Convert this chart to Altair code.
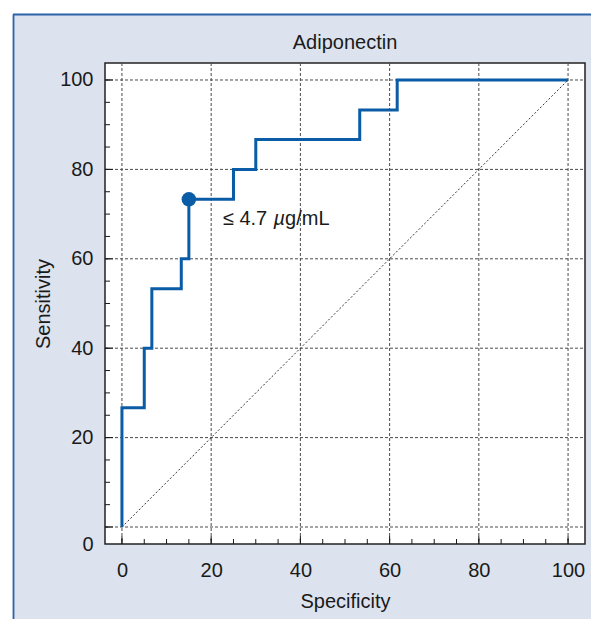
import altair as alt
import pandas as pd

# ROC curve (step points, step-after interpolation)
specificity = [0, 0, 5, 6.7, 13.3, 15, 25, 30, 53.3, 61.7, 100]
sensitivity = [0, 26.7, 40, 53.3, 60, 73.3, 80, 86.7, 93.3, 100, 100]
cutoff_spec = [15]
cutoff_sens = [73.3]
cutoff_parts = ["\u2264 4.7 ", "\u00b5", "g/mL"]
chance_x = [0, 100]
chance_y = [0, 100]
major_ticks = [0, 20, 40, 60, 80, 100]
minor_ticks = list(range(0, 101, 5))
title_text = "Adiponectin"
x_title = "Specificity"
y_title = "Sensitivity"

FONT = "Liberation Sans"
FS = 20
BLUE = "#0b5ca6"
BORDER = "#2a63a8"
BG = "#dce3ef"
TXT = "#1a1a1a"
DOM = [-3.8, 103.8]
W, H = 480, 481

xs = alt.Scale(domain=DOM, nice=False, zero=False)
ys = alt.Scale(domain=DOM, nice=False, zero=False)

xaxis = alt.Axis(values=major_ticks, grid=False, ticks=False, domain=False,
                 labelFont=FONT, labelFontSize=FS, labelColor=TXT, labelPadding=16,
                 title=x_title, titleFont=FONT, titleFontSize=FS, titleFontWeight="normal",
                 titleColor=TXT, titleBaseline="alphabetic", titleY=63, titleX=W / 2,
                 zindex=1)
yaxis = alt.Axis(values=[DOM[0]] + major_ticks[1:], grid=False, ticks=False, domain=False,
                 labelExpr="datum.value < 0 ? '0' : datum.label",
                 labelFont=FONT, labelFontSize=FS, labelColor=TXT, labelPadding=12,
                 title=y_title, titleFont=FONT, titleFontSize=FS, titleFontWeight="normal",
                 titleColor=TXT, titleBaseline="alphabetic", titleX=-56, titleY=H / 2,
                 zindex=1)

roc = pd.DataFrame({"x": specificity, "y": sensitivity, "i": range(len(specificity))})
cut = pd.DataFrame({"x": cutoff_spec, "y": cutoff_sens})
diag = pd.DataFrame({"x": chance_x, "y": chance_y})
grid = pd.DataFrame({"v": major_ticks})
minor = pd.DataFrame({"v": minor_ticks})
one = pd.DataFrame({"a": [0]})

X = lambda f: alt.X(f, type="quantitative", scale=xs, axis=xaxis)
Y = lambda f: alt.Y(f, type="quantitative", scale=ys, axis=yaxis)

# page decorations (white margin strips and blue box border)
strip_left = alt.Chart(one).mark_rect(color="white").encode(
    x=alt.value(-97), x2=alt.value(-92), y=alt.value(-55), y2=alt.value(565))
strip_top = alt.Chart(one).mark_rect(color="white").encode(
    x=alt.value(-97), x2=alt.value(500), y=alt.value(-55), y2=alt.value(-48))
border_left = alt.Chart(one).mark_rule(color=BORDER, strokeWidth=1.8).encode(
    x=alt.value(-91.5), y=alt.value(-48.5), y2=alt.value(565))
border_top = alt.Chart(one).mark_rule(color=BORDER, strokeWidth=1.8).encode(
    x=alt.value(-92), x2=alt.value(500), y=alt.value(-48.5))

gx = alt.Chart(grid).mark_rule(color="#4a4a4a", strokeWidth=1, strokeDash=[3, 2]).encode(
    x=X("v"), y=alt.value(0), y2=alt.value(H))
gy = alt.Chart(grid).mark_rule(color="#4a4a4a", strokeWidth=1, strokeDash=[3, 2]).encode(
    y=Y("v"), x=alt.value(0), x2=alt.value(W))

tx_minor = alt.Chart(minor).mark_rule(color=TXT, strokeWidth=1).encode(
    x=X("v"), y=alt.value(H), y2=alt.value(H - 5))
ty_minor = alt.Chart(minor).mark_rule(color=TXT, strokeWidth=1).encode(
    y=Y("v"), x=alt.value(0), x2=alt.value(5))
tx_major = alt.Chart(grid).mark_rule(color=TXT, strokeWidth=1).encode(
    x=X("v"), y=alt.value(H), y2=alt.value(H - 8))
ty_major = alt.Chart(grid).mark_rule(color=TXT, strokeWidth=1).encode(
    y=Y("v"), x=alt.value(0), x2=alt.value(8))

diag_line = alt.Chart(diag).mark_line(color="#333", strokeWidth=1, strokeDash=[2, 2]).encode(
    x=X("x"), y=Y("y"))

roc_line = alt.Chart(roc).mark_line(interpolate="step-after", color=BLUE, strokeWidth=3).encode(
    x=X("x"), y=Y("y"), order="i:Q")

dot = alt.Chart(cut).mark_circle(size=210, color=BLUE, opacity=1).encode(x=X("x"), y=Y("y"))

def part(txt, dx, style="normal"):
    return alt.Chart(cut).mark_text(align="left", baseline="alphabetic", dx=dx, dy=26,
                                    font=FONT, fontSize=FS, fontStyle=style, color=TXT).encode(
        x=X("x"), y=Y("y"), text=alt.value(txt))

label1 = part(cutoff_parts[0], 34)
label2 = part(cutoff_parts[1], 34 + 50.6, "italic")
label3 = part(cutoff_parts[2], 34 + 50.6 + 11.6)

title = alt.Chart(one).mark_text(align="center", baseline="alphabetic", font=FONT,
                                 fontSize=FS, color=TXT).encode(
    x=alt.value(W / 2), y=alt.value(-14), text=alt.value(title_text))

chart = alt.layer(
    strip_left, strip_top, border_left, border_top,
    gx, gy, diag_line, tx_minor, ty_minor, tx_major, ty_major,
    roc_line, dot, label1, label2, label3, title
).properties(
    width=W, height=H,
    autosize=alt.AutoSizeParams(type="none"),
    padding={"left": 97, "top": 55, "right": 6, "bottom": 75},
    background=BG,
).configure_view(fill="white", stroke="#222", strokeWidth=1.5)

chart.save("out.html", embed_options={"renderer": "svg", "actions": False})
